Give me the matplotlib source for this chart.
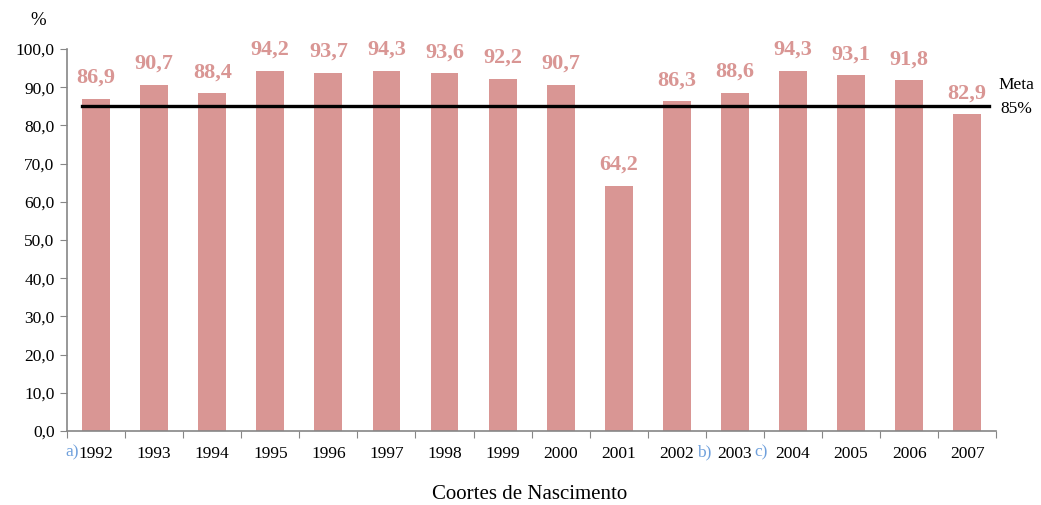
import numpy as np
import matplotlib.pyplot as plt

# data
years = ["1992", "1993", "1994", "1995", "1996", "1997", "1998", "1999",
         "2000", "2001", "2002", "2003", "2004", "2005", "2006", "2007"]
coverage = [86.9, 90.7, 88.4, 94.2, 93.7, 94.3, 93.6, 92.2,
            90.7, 64.2, 86.3, 88.6, 94.3, 93.1, 91.8, 82.9]
meta = 85
notes = {"1992": "a)", "2002": "b)", "2003": "c)"}  # footnote marks

bar_color = "#D99694"
axis_color = "#868686"
note_color = "#6FA0DC"

plt.rcParams["font.family"] = ["Liberation Serif", "DejaVu Serif"]

fig = plt.figure(figsize=(10.41, 5.05), dpi=100)
ax = fig.add_axes([0.0644, 0.1465, 0.8926, 0.7565])

x = np.arange(len(years))
ax.bar(x, coverage, width=0.48, color=bar_color, zorder=2)

for xi, v in zip(x, coverage):
    ax.annotate(f"{v:.1f}".replace(".", ","), (xi, v), xytext=(0, 8),
                textcoords="offset points", ha="center", va="bottom",
                fontsize=16, fontweight="bold", color=bar_color)

# target line
ax.plot([-0.24, 15.38], [meta, meta], color="black", lw=2.4, zorder=3)
ax.text(15.85, meta + 5.6, "Meta", ha="center", va="center", fontsize=12.5)
ax.text(15.85, meta - 0.6, "85%", ha="center", va="center", fontsize=12.5)

ax.set_xlim(-0.5, len(years) - 0.5)
ax.set_ylim(0, 100)
ax.set_yticks(np.arange(0, 101, 10))
ax.set_yticklabels([f"{t:.1f}".replace(".", ",") for t in np.arange(0, 101, 10)],
                   fontsize=12.5)

# category ticks between bars, labels at bar centres
ax.set_xticks(np.arange(-0.5, len(years), 1))
ax.set_xticklabels([])
ax.set_xticks(x, minor=True)
ax.set_xticklabels(years, minor=True, fontsize=12.5)
ax.tick_params(axis="x", which="minor", length=0, pad=11)
ax.tick_params(axis="x", which="major", length=5, color=axis_color, direction="out")
ax.tick_params(axis="y", length=5, color=axis_color, direction="out", pad=4)

for s in ["top", "right"]:
    ax.spines[s].set_visible(False)
for s in ["left", "bottom"]:
    ax.spines[s].set_color(axis_color)
    ax.spines[s].set_linewidth(1.2)

# footnote marks beside year labels
for yr, mark in notes.items():
    i = years.index(yr)
    if yr == "1992":
        ax.text(i - 0.3, -0.056, mark, transform=ax.get_xaxis_transform(),
                ha="right", va="center", fontsize=12.5, color=note_color)
    else:
        ax.text(i + 0.34, -0.056, mark, transform=ax.get_xaxis_transform(),
                ha="left", va="center", fontsize=12.5, color=note_color)

fig.text(0.029, 0.96, "%", ha="left", va="center", fontsize=13.5)
fig.text(0.509, 0.02, "Coortes de Nascimento", ha="center", va="center", fontsize=15)

fig.savefig("out.png", dpi=100)
